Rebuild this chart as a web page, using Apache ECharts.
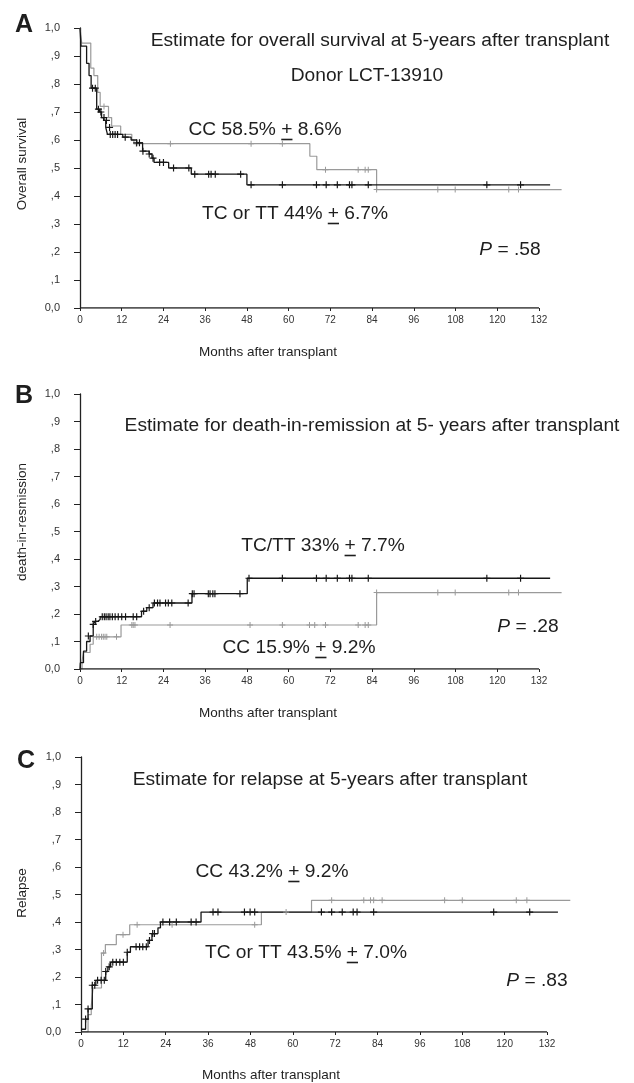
<!DOCTYPE html>
<html><head><meta charset="utf-8">
<script src="https://cdn.jsdelivr.net/npm/echarts@6/dist/echarts.min.js"></script>
<style>html,body{margin:0;padding:0;background:#fff}#c{width:634px;height:1083px}</style>
</head><body><div id="c"></div>
<script>
// ---------- DATA ----------
const xTickStep = 12;
const xMax = 132;          // last labelled tick / end of the drawn axis line
const xExtent = 140;       // curves run a little past the last tick
const xTicks = [0, 12, 24, 36, 48, 60, 72, 84, 96, 108, 120, 132];
const yTickLabels = ['0,0', ',1', ',2', ',3', ',4', ',5', ',6', ',7', ',8', ',9', '1,0'];
const xAxisTitle = 'Months after transplant';

// Panel A: overall survival
const osTitle = 'Estimate for overall survival at 5-years after transplant';
const osSubtitle = 'Donor LCT-13910';
const osYName = 'Overall survival';
const osLabelCC = ['CC 58.5% ', '+', ' 8.6%'];
const osLabelTC = ['TC or TT 44% ', '+', ' 6.7%'];
const osP = '.58';
const osTC = [[0,1],[0.3,0.935],[1.9,0.874],[2.6,0.83],[3.2,0.785],[4.8,0.71],[5.6,0.70],[6.2,0.68],[6.8,0.67],[7.4,0.645],[7.9,0.62],[12.3,0.61],[14.7,0.60],[16.3,0.59],[18,0.56],[19.9,0.55],[20.7,0.535],[21.3,0.52],[25.5,0.50],[32,0.478],[48,0.44],[135.2,0.44]];
const osTCcens = [[3.6,0.785],[4.4,0.785],[5.3,0.71],[6,0.70],[6.9,0.68],[7.6,0.67],[8.5,0.645],[8.7,0.62],[9.4,0.62],[10.1,0.62],[10.8,0.62],[13,0.61],[16.3,0.59],[17.1,0.59],[18.1,0.56],[19.9,0.55],[21,0.535],[22.9,0.52],[24,0.52],[26.9,0.50],[31.3,0.50],[33,0.478],[37,0.478],[37.7,0.478],[38.9,0.478],[46.2,0.478],[49.2,0.44],[58.2,0.44],[68,0.44],[70.8,0.44],[74,0.44],[77.5,0.44],[78.2,0.44],[82.9,0.44],[117,0.44],[126.7,0.44]];
const osCC = [[0,1],[0.5,0.946],[3.1,0.857],[4,0.83],[5.1,0.77],[5.8,0.72],[8.2,0.68],[9.1,0.65],[11.7,0.62],[14.9,0.60],[15.5,0.587],[66.1,0.542],[68.1,0.494],[85.3,0.423],[138.5,0.423]];
const osCCcens = [[6.9,0.72],[16.2,0.587],[26,0.587],[49.2,0.587],[58.2,0.587],[70.6,0.494],[80,0.494],[82,0.494],[82.9,0.494],[85.3,0.423],[102.9,0.423],[107.9,0.423],[123.3,0.423],[126.1,0.423]];

// Panel B: death in remission
const drTitle = 'Estimate for death-in-remission at 5- years after transplant';
const drYName = 'death-in-resmission';
const drLabelTC = ['TC/TT 33% ', '+', ' 7.7%'];
const drLabelCC = ['CC 15.9% ', '+', ' 9.2%'];
const drP = '.28';
const drTC = [[0,0],[0.1,0.023],[1,0.065],[1.9,0.10],[2.9,0.12],[3.8,0.162],[4.3,0.173],[5.1,0.18],[5.8,0.19],[17.7,0.21],[19.2,0.223],[21,0.24],[32.2,0.274],[48.1,0.33],[135.2,0.33]];
const drTCcens = [[2.4,0.12],[3.8,0.162],[4.5,0.173],[6.4,0.19],[7,0.19],[7.5,0.19],[8.1,0.19],[8.6,0.19],[9.3,0.19],[10.1,0.19],[11,0.19],[12,0.19],[13.1,0.19],[15.3,0.19],[16.3,0.19],[18.3,0.21],[19.9,0.223],[21.4,0.24],[22.3,0.24],[23,0.24],[24.6,0.24],[25.4,0.24],[26.4,0.24],[31.1,0.24],[32.3,0.274],[32.8,0.274],[36.9,0.274],[37.4,0.274],[38.2,0.274],[38.8,0.274],[46,0.274],[48.6,0.33],[58.2,0.33],[68,0.33],[70.8,0.33],[74,0.33],[77.5,0.33],[78.2,0.33],[82.9,0.33],[117,0.33],[126.7,0.33]];
const drCC = [[0,0],[0.6,0.03],[1,0.06],[2.9,0.09],[3.8,0.117],[11.8,0.16],[85.3,0.278],[138.5,0.278]];
const drCCcens = [[4.8,0.117],[5.5,0.117],[6.2,0.117],[6.7,0.117],[7.2,0.117],[7.7,0.117],[10.5,0.117],[14.9,0.16],[15.3,0.16],[15.8,0.16],[25.9,0.16],[48.9,0.16],[58.2,0.16],[66,0.16],[67.5,0.16],[70.6,0.16],[80,0.16],[82,0.16],[82.9,0.16],[85.3,0.278],[102.9,0.278],[107.9,0.278],[123.3,0.278],[126.1,0.278]];

// Panel C: relapse
const rlTitle = 'Estimate for relapse at 5-years after transplant';
const rlYName = 'Relapse';
const rlLabelCC = ['CC 43.2% ', '+', ' 9.2%'];
const rlLabelTC = ['TC or TT 43.5% ', '+', ' 7.0%'];
const rlP = '.83';
const rlTC = [[0,0.01],[1.3,0.047],[2,0.084],[3.2,0.17],[4.2,0.188],[7,0.22],[7.6,0.237],[8.4,0.254],[13.1,0.29],[14,0.31],[19,0.333],[20.1,0.358],[21.8,0.379],[22.5,0.40],[34,0.436],[135.1,0.436]];
const rlTCcens = [[1.3,0.047],[2,0.084],[3.2,0.17],[3.9,0.17],[4.7,0.188],[5.7,0.188],[6.6,0.188],[7,0.22],[8,0.237],[9,0.254],[10,0.254],[11,0.254],[12,0.254],[13.1,0.29],[15.6,0.31],[16.6,0.31],[17.5,0.31],[18.5,0.31],[19.4,0.333],[20.3,0.358],[20.8,0.358],[23.2,0.40],[25.1,0.40],[27,0.40],[31.2,0.40],[32.6,0.40],[37.4,0.436],[38.8,0.436],[46.3,0.436],[47.9,0.436],[49.2,0.436],[68.1,0.436],[71,0.436],[74,0.436],[77.1,0.436],[78.2,0.436],[82.9,0.436],[116.9,0.436],[127.1,0.436]];
const rlCC = [[0,0],[2,0.063],[2.9,0.093],[3.4,0.16],[5.8,0.287],[6.9,0.318],[10,0.354],[13.8,0.39],[51.1,0.436],[65.3,0.479],[138.6,0.479]];
const rlCCcens = [[6.4,0.287],[11.9,0.354],[15.9,0.39],[25.8,0.39],[49.2,0.39],[58.1,0.436],[71,0.479],[80.1,0.479],[82,0.479],[82.9,0.479],[85.3,0.479],[103,0.479],[108,0.479],[123.3,0.479],[126.3,0.479]];

// ---------- STYLE / LAYOUT ----------
const FF = '"Liberation Sans", Arial, Helvetica, sans-serif';
const TXT = '#1e1e1e';
const BLACK = '#161616';
const GRAY = '#9a9a9a';
const AX = '#222';
const FS = 19.2;
const pxA = 459/132, pxC = 466/132;
const grids = [
  {left: 80, top: 28, width: pxA*xExtent, height: 280},
  {left: 80, top: 394, width: pxA*xExtent, height: 275},
  {left: 81, top: 757, width: pxC*xExtent, height: 275}
];
const plus = 'path://M3,0H4.2V7.2H3ZM0,3H7.2V4.2H0Z';

const chart = echarts.init(document.getElementById('c'), null, {renderer: 'canvas'});

function xAxis(i){
  return {type:'value', gridIndex:i, min:0, max:xExtent, interval:xTickStep,
    axisLine:{show:false},
    axisTick:{show:true, length:3, lineStyle:{color:AX, width:1}, customValues:xTicks},
    axisLabel:{color:'#333', fontSize:10, fontFamily:FF, margin:7, customValues:xTicks},
    splitLine:{show:false}};
}
function yAxis(i){
  return {type:'value', gridIndex:i, min:0, max:1, interval:0.1,
    axisLine:{show:true, onZero:false, lineStyle:{color:AX, width:1.3}},
    axisTick:{show:true, length:6, lineStyle:{color:AX, width:1}},
    axisLabel:{color:'#333', fontSize:11, fontFamily:FF, margin:20,
      formatter: v => yTickLabels[Math.round(v*10)]},
    splitLine:{show:false}};
}
function axisLineSeries(i){
  return {type:'line', xAxisIndex:i, yAxisIndex:i, data:[[0,0],[xMax,0]], symbol:'none',
    lineStyle:{color:AX, width:1.3}, silent:true, animation:false, z:4};
}
function curve(i, data, color, w){
  return {type:'line', xAxisIndex:i, yAxisIndex:i, data, step:'end', symbol:'none',
    lineStyle:{color, width:w}, silent:true, animation:false, z:2};
}
function cens(i, data, color, size){
  return {type:'scatter', xAxisIndex:i, yAxisIndex:i, data, symbol:plus, symbolSize:size,
    itemStyle:{color, opacity:1}, silent:true, animation:false, z:3};
}

// text helpers
const mctx = document.createElement('canvas').getContext('2d');
function measure(t, size){ mctx.font = size+'px '+FF; return mctx.measureText(t).width; }
const graphics = [];
function txt(t, x, y, size, opts){
  opts = opts || {};
  graphics.push({type:'text', x, y, rotation: opts.rot || 0, silent:true,
    style:{text:t, fontSize:size, fontFamily:FF, fontWeight: opts.bold ? 'bold':'normal', fill:TXT,
      textAlign:'center', textVerticalAlign:'middle', rich: opts.rich}});
}
function pmLabel(parts, cx, cy){
  const full = parts.join('');
  txt(full, cx, cy, FS);
  const W = measure(full, FS);
  const left = cx - W/2 + measure(parts[0], FS);
  const pw = measure(parts[1], FS);
  graphics.push({type:'line', silent:true, shape:{x1:left, y1:cy+9.5, x2:left+pw, y2:cy+9.5},
    style:{stroke:TXT, lineWidth:1.6}});
}
function pLabel(val, cx, cy){
  txt('{i|P} = '+val, cx, cy, FS, {rich:{i:{fontStyle:'italic', fontSize:FS, fontFamily:FF, fill:TXT}}});
}

// Panel A texts
txt('A', 24, 25, 25, {bold:true});
txt(osTitle, 380, 41, FS);
txt(osSubtitle, 367, 76, FS);
pmLabel(osLabelCC, 265, 130);
pmLabel(osLabelTC, 295, 214);
pLabel(osP, 510, 250);
txt(osYName, 22, 164, 13.5, {rot:Math.PI/2});
txt(xAxisTitle, 268, 352, 13.5);
// Panel B texts
txt('B', 24, 396, 25, {bold:true});
txt(drTitle, 372, 426, FS);
pmLabel(drLabelTC, 323, 546);
pmLabel(drLabelCC, 299, 648);
pLabel(drP, 528, 627);
txt(drYName, 22, 522, 13.5, {rot:Math.PI/2});
txt(xAxisTitle, 268, 713, 13.5);
// Panel C texts
txt('C', 26, 761, 25, {bold:true});
txt(rlTitle, 330, 780, FS);
pmLabel(rlLabelCC, 272, 872);
pmLabel(rlLabelTC, 306, 953);
pLabel(rlP, 537, 981);
txt(rlYName, 22, 893, 13.5, {rot:Math.PI/2});
txt(xAxisTitle, 271, 1075, 13.5);

const option = {
  animation:false,
  backgroundColor:'#fff',
  grid: grids,
  xAxis: [xAxis(0), xAxis(1), xAxis(2)],
  yAxis: [yAxis(0), yAxis(1), yAxis(2)],
  series: [
    axisLineSeries(0), axisLineSeries(1), axisLineSeries(2),
    curve(0, osCC, GRAY, 1.2), curve(0, osTC, BLACK, 1.3),
    cens(0, osCCcens, GRAY, 6), cens(0, osTCcens, BLACK, 7),
    curve(1, drCC, GRAY, 1.2), curve(1, drTC, BLACK, 1.3),
    cens(1, drCCcens, GRAY, 6), cens(1, drTCcens, BLACK, 7),
    curve(2, rlCC, GRAY, 1.2), curve(2, rlTC, BLACK, 1.3),
    cens(2, rlCCcens, GRAY, 6), cens(2, rlTCcens, BLACK, 7)
  ],
  graphic: graphics
};
chart.setOption(option);
</script>
</body></html>
